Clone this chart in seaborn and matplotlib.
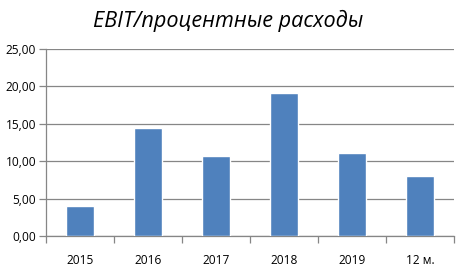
import matplotlib
matplotlib.use("Agg")
import matplotlib.pyplot as plt
import seaborn as sns
import pandas as pd
import numpy as np
from matplotlib.ticker import FuncFormatter, FixedLocator

periods = ["2015", "2016", "2017", "2018", "2019", "12 м."]
ratio = [4.0, 14.5, 10.7, 19.1, 11.1, 8.0]
y_ticks = [0, 5, 10, 15, 20, 25]

sns.set_theme(style="white")
plt.rcParams["font.family"] = ["Open Sans", "DejaVu Sans"]

df = pd.DataFrame({"period": periods, "ratio": ratio})

fig = plt.figure(figsize=(4.58, 2.75), dpi=100)
ax = fig.add_axes([0.1004, 0.1418, 0.8906, 0.68])

sns.barplot(data=df, x="period", y="ratio", color="#4F81BD", saturation=1,
            width=0.41, ax=ax, zorder=3)

ax.set_ylim(0, 25)
ax.set_xlim(-0.5, len(periods) - 0.5)
ax.set_yticks(y_ticks)
ax.yaxis.set_major_formatter(FuncFormatter(lambda v, p: f"{v:.2f}".replace(".", ",")))
ax.grid(axis="y", color="#868686", linewidth=0.9, zorder=0)
ax.set_axisbelow(True)

for side in ("top", "right"):
    ax.spines[side].set_visible(False)
for side in ("left", "bottom"):
    ax.spines[side].set_color("#868686")
    ax.spines[side].set_linewidth(0.9)

ax.tick_params(axis="y", left=True, length=5, width=0.9, color="#868686",
               labelsize=8.6, pad=2, labelcolor="#000000")
ax.tick_params(axis="x", which="major", bottom=False, labelsize=8.6, pad=7,
               labelcolor="#000000")
ax.xaxis.set_minor_locator(FixedLocator(np.arange(-0.5, len(periods), 1.0)))
ax.tick_params(axis="x", which="minor", bottom=True, length=5, width=0.9,
               color="#868686")
ax.set_xlabel("")
ax.set_ylabel("")

fig.text(0.497, 0.925, "EBIT/процентные расходы", ha="center", va="center",
         fontsize=15.6, style="italic", color="#000000")

fig.savefig("out.png", dpi=100, facecolor="white")
